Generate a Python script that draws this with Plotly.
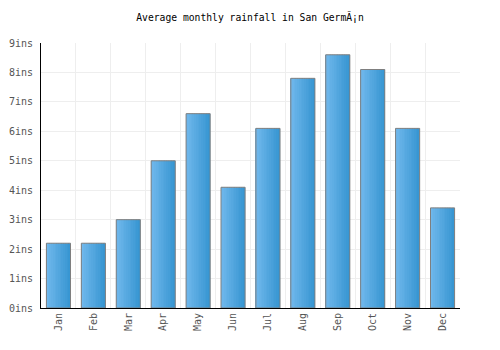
import plotly.graph_objects as go

months = ["Jan", "Feb", "Mar", "Apr", "May", "Jun", "Jul", "Aug", "Sep", "Oct", "Nov", "Dec"]
rainfall = [2.2, 2.2, 3.0, 5.0, 6.6, 4.1, 6.1, 7.8, 8.6, 8.1, 6.1, 3.4]
y_ticks = [0, 1, 2, 3, 4, 5, 6, 7, 8, 9]
y_tick_labels = ["0ins", "1ins", "2ins", "3ins", "4ins", "5ins", "6ins", "7ins", "8ins", "9ins"]
title_text = "Average monthly rainfall in San GermÃ¡n"

FONT = "DejaVu Sans Mono"
xpos = list(range(len(months)))
bar_w = 0.69
n_str = 14
c0 = (0x70, 0xb8, 0xec)
c1 = (0x38, 0x96, 0xd2)

fig = go.Figure()
sw = bar_w / n_str
for i in range(n_str):
    t = i / (n_str - 1)
    col = "rgb(%d,%d,%d)" % tuple(round(a + (b - a) * t) for a, b in zip(c0, c1))
    fig.add_trace(go.Bar(
        x=xpos, y=rainfall, width=sw * 1.05, offset=-bar_w / 2 + i * sw,
        marker=dict(color=col, line=dict(width=0)),
        hoverinfo="skip", showlegend=False,
    ))
fig.add_trace(go.Bar(
    x=xpos, y=rainfall, width=bar_w, offset=-bar_w / 2,
    marker=dict(color="rgba(0,0,0,0)", line=dict(color="#7f7f7f", width=1)),
    hoverinfo="skip", showlegend=False,
))

fig.update_layout(
    width=500, height=350,
    margin=dict(l=41, r=40, t=43, b=42),
    paper_bgcolor="white", plot_bgcolor="white",
    barmode="overlay",
    font=dict(family=FONT, size=10, color="#555555"),
    title=dict(text=title_text, x=0.5, xanchor="center", y=1 - 18 / 350, yanchor="middle",
               font=dict(family=FONT, size=9.7, color="#000000")),
    xaxis=dict(
        range=[-0.5, len(months) - 0.5],
        tickmode="array", tickvals=xpos, ticktext=months, tickangle=-90,
        showgrid=False, showline=True, linecolor="#000000", linewidth=1,
        ticks="", zeroline=False, automargin=False,
        minor=dict(tickmode="linear", tick0=0.5, dtick=1, showgrid=True, gridcolor="#eeeeee", gridwidth=1, ticks=""),
        tickfont=dict(family=FONT, size=10, color="#555555"),
    ),
    yaxis=dict(
        range=[0, 9], tickmode="array", tickvals=y_ticks, ticktext=y_tick_labels,
        showgrid=True, gridcolor="#eeeeee", gridwidth=1,
        showline=True, linecolor="#000000", linewidth=1, zeroline=False,
        ticks="outside", ticklen=5, tickcolor="rgba(0,0,0,0)", automargin=False,
        tickfont=dict(family=FONT, size=10, color="#555555"),
    ),
)

fig.write_html("out.html")
